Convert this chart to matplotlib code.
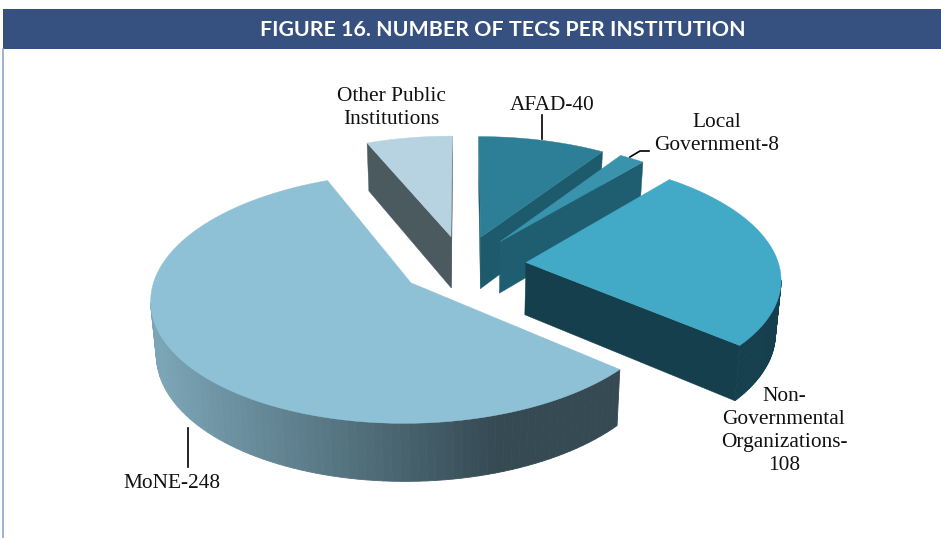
#!/usr/bin/env python3
import matplotlib
matplotlib.use('Agg')
import matplotlib.pyplot as plt
import numpy as np
from matplotlib.colors import to_rgb
from matplotlib.patches import Polygon, Rectangle

# clockwise from 12 o'clock
categories = ['AFAD', 'Local Government', 'Non-Governmental Organizations', 'MoNE', 'Other Public Institutions']
values = [40, 8, 108, 248, 27]  # "Other" has no number in the picture, estimated

top_colors = ['#2d7e97', '#3a93ad', '#42a9c6', '#8fc1d6', '#b7d3e1']
side_colors = ['#1c5a6c', '#1e5e70', '#153f4d', '#354a53', '#4a5a5f']
wall_light = '#7ba5b6'
wall_dark = '#354a53'

# fake 3d: unit disk -> pixels
CX, CY = 463, 265
A, B = 253, 119
K = 0.12
EXPLODE = 0.25


def project(u, v):
    w = 1 / (1 - K * v)
    return CX + A * u * w, CY + B * v * w


def extrude(x, y):
    # bottom face, a bit narrower and deeper toward the viewer
    return 467 + 0.982 * (x - 467), y + 48 + (y - 144) * 0.036


fig = plt.figure(figsize=(9.41, 5.38), dpi=100)
ax = fig.add_axes([0, 0, 1, 1])
ax.set_xlim(0, 941)
ax.set_ylim(538, 0)
ax.axis('off')

# header and frame
ax.add_patch(Rectangle((3, 9), 938, 40, color='#365180', lw=0))
ax.plot([3.5, 3.5], [49, 538], color='#8fa6c6', lw=1.2)
ax.text(503, 30, 'FIGURE 16. NUMBER OF TECS PER INSTITUTION', color='white',
        family='Lato', weight='bold', fontsize=15.4, ha='center', va='center')

fracs = np.array(values) / sum(values)
edges = np.concatenate([[0], np.cumsum(fracs)]) * 2 * np.pi

# back to front
for i in [4, 0, 1, 2, 3]:
    a0, a1 = edges[i], edges[i + 1]
    mid = (a0 + a1) / 2
    ou, ov = EXPLODE * np.sin(mid), -EXPLODE * np.cos(mid)
    t = np.linspace(a0, a1, 120)
    arc_x, arc_y = project(ou + np.sin(t), ov - np.cos(t))
    ap_x, ap_y = project(ou, ov)
    bx, by = extrude(arc_x, arc_y)

    # cut faces, the slice runs clockwise so only those going leftward face us
    for px, py, qx, qy in [(ap_x, ap_y, arc_x[0], arc_y[0]),
                           (arc_x[-1], arc_y[-1], ap_x, ap_y)]:
        pbx, pby = extrude(px, py)
        qbx, qby = extrude(qx, qy)
        if qx < px:
            ax.add_patch(Polygon([(px, py), (qx, qy), (qbx, qby), (pbx, pby)],
                                 closed=True, color=side_colors[i], lw=0.3))

    # outer wall, only the part that faces down
    for j in range(len(t) - 1):
        if arc_x[j + 1] >= arc_x[j]:
            continue
        if i == 3:
            f = np.clip((arc_x[j] - 160) / (500 - 160), 0, 1)
            col = (1 - f) * np.array(to_rgb(wall_light)) + f * np.array(to_rgb(wall_dark))
        else:
            col = side_colors[i]
        ax.add_patch(Polygon([(arc_x[j], arc_y[j]), (arc_x[j + 1], arc_y[j + 1]),
                              (bx[j + 1], by[j + 1]), (bx[j], by[j])],
                             closed=True, facecolor=col, edgecolor=col, lw=0.6))

    ax.add_patch(Polygon(np.vstack([[ap_x, ap_y], np.column_stack([arc_x, arc_y])]),
                         closed=True, color=top_colors[i], lw=0.3))

# labels
lab = dict(family='Liberation Serif', fontsize=15.4, color='#111111', ha='center', va='center',
           linespacing=1.3)
ax.text(391, 108, 'Other Public\nInstitutions', **lab)
ax.text(552, 105, 'AFAD-40', **lab)
ax.text(717, 134, 'Local\nGovernment-8', **lab)
ax.text(784, 431, 'Non-\nGovernmental\nOrganizations-\n108', **lab)
ax.text(172, 483, 'MoNE-248', **lab)

ax.plot([542, 542], [115, 139], color='black', lw=1.2)
ax.plot([630, 640, 649], [157, 151, 151], color='black', lw=1.2)
ax.plot([188.5, 188.5], [428, 467], color='black', lw=1.2)

fig.savefig('out.png', dpi=100)
